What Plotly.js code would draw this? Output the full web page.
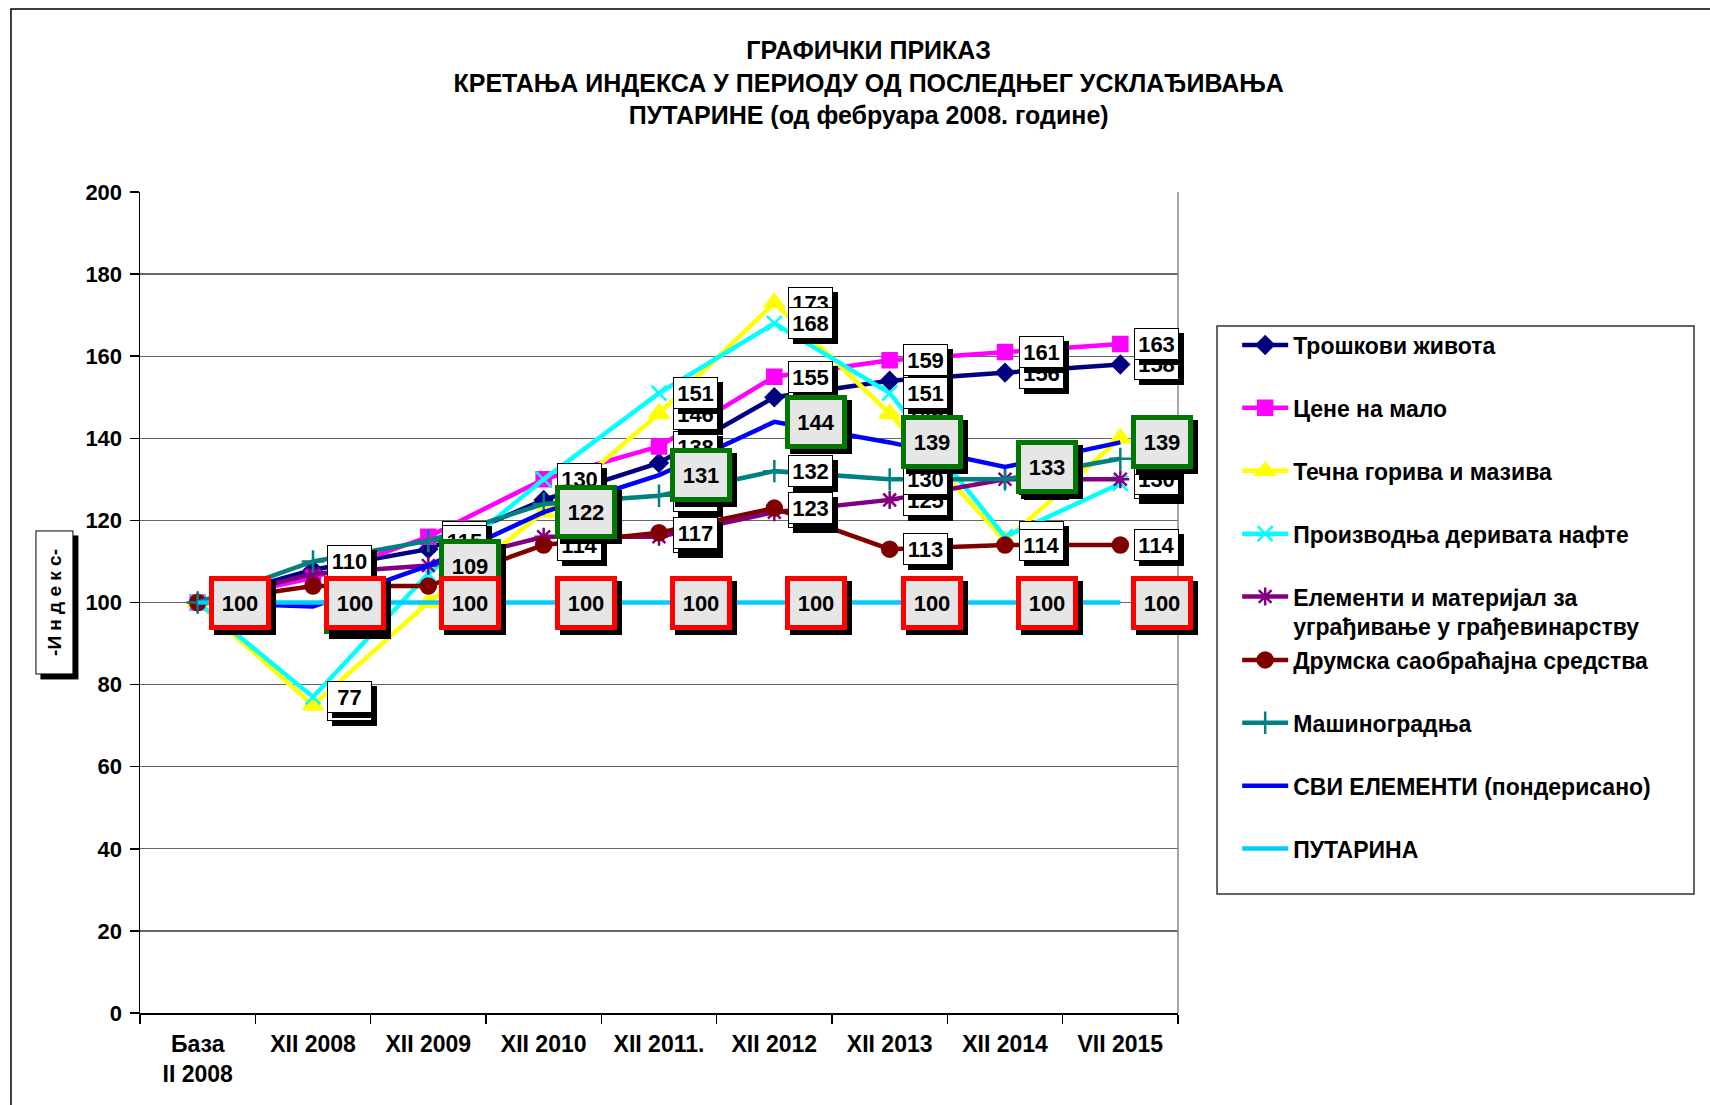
<!DOCTYPE html>
<html>
<head>
<meta charset="utf-8">
<script src="https://cdn.plot.ly/plotly-3.0.1.min.js"></script>
<style>
html,body{margin:0;padding:0;background:#fff;}
#chart{width:1710px;height:1105px;}
</style>
</head>
<body>
<div id="chart"></div>
<script>
// ---- data ----
const categories = ['База<br>II 2008','XII 2008','XII 2009','XII 2010','XII 2011.','XII 2012','XII 2013','XII 2014','VII 2015'];
const seriesNames = [
  'Трошкови живота',
  'Цене на мало',
  'Течна горива и мазива',
  'Производња деривата нафте',
  'Елементи и материјал за<br>уграђивање у грађевинарству',
  'Друмска саобраћајна средства',
  'Машиноградња',
  'СВИ ЕЛЕМЕНТИ (пондерисано)',
  'ПУТАРИНА'
];
const costOfLiving   = [100, 108, 113, 125, 134, 150, 154, 156, 158];
const retailPrices   = [100, 106, 116, 130, 138, 155, 159, 161, 163];
const liquidFuels    = [100, 75, 100, 122, 146, 173, 146, 115, 140];
const oilProducts    = [100, 77, 107, 130, 151, 168, 151, 116, 129];
const constructionMat= [100, 107, 109, 116, 116, 122, 125, 130, 130];
const roadVehicles   = [100, 104, 104, 114, 117, 123, 113, 114, 114];
const machinery      = [100, 110, 115, 124, 126, 132, 130, 130, 135];
const allElements    = [100, 99, 109, 122, 131, 144, 139, 133, 139];
const tollIndex      = [100, 100, 100, 100, 100, 100, 100, 100, 100];
const yTicks = [0,20,40,60,80,100,120,140,160,180,200];

// ---- styles ----
const seriesValues = [costOfLiving, retailPrices, liquidFuels, oilProducts, constructionMat, roadVehicles, machinery, allElements, tollIndex];
const colors  = ['#000080','#FF00FF','#FFFF00','#00FFFF','#800080','#800000','#008080','#0000FF','#00CCFF'];
const symbols = ['diamond','square','triangle-up','x-thin-open','asterisk-open','circle','cross-thin-open',null,null];
const msizes  = [13,14,17,15,15,15,16,0,0];
const labelStyle = ['w','w','w','w','w','w','w','g','r'];

const FONT = 'Liberation Sans, Arial, sans-serif';

const traces = seriesValues.map((vals, i) => {
  const t = {
    type: 'scatter',
    x: categories,
    y: vals,
    name: seriesNames[i],
    legendgroup: 'g' + i,
    legend: i < 5 ? 'legend' : 'legend2',
    mode: symbols[i] ? 'lines+markers' : 'lines',
    line: {color: colors[i], width: 4.5},
    hoverinfo: 'skip',
    cliponaxis: false
  };
  if (symbols[i]) {
    t.marker = {symbol: symbols[i], size: msizes[i], color: colors[i],
                line: {color: colors[i], width: 2.5}};
  }
  return t;
});

// data labels (boxes with drop shadows)
const annotations = [];
seriesValues.forEach((vals, i) => {
  const st = labelStyle[i];
  vals.forEach((v, j) => {
    const big = st !== 'w';
    const w = big ? 52 : 43, h = big ? 44 : 30, bw = big ? 5 : 1;
    const xs = big ? 42 : 36;
    annotations.push({
      x: categories[j], y: v, xref: 'x', yref: 'y', showarrow: false,
      text: ' ', width: w, height: h, borderwidth: bw, borderpad: 0,
      bgcolor: '#000', bordercolor: '#000',
      xshift: xs + 5, yshift: -5, font: {size: 22, family: FONT}
    });
    annotations.push({
      x: categories[j], y: v, xref: 'x', yref: 'y', showarrow: false,
      text: String(Math.round(v)), width: w, height: h, borderwidth: bw, borderpad: 0,
      bgcolor: big ? '#e6e6e6' : '#ffffff',
      bordercolor: st === 'g' ? '#007700' : (st === 'r' ? '#FF0000' : '#000000'),
      xshift: xs, yshift: 0,
      font: {size: 22, family: FONT, color: '#000', weight: 'bold'}
    });
  });
});

// y axis title box
annotations.push({
  xref: 'paper', yref: 'paper', x: -0.0829, y: 0.5, xanchor: 'center', yanchor: 'middle', showarrow: false,
  text: ' ', textangle: -90, width: 140, height: 34, bgcolor: '#000', bordercolor: '#000', borderwidth: 1,
  xshift: 5, yshift: -5
});
annotations.push({
  xref: 'paper', yref: 'paper', x: -0.0829, y: 0.5, xanchor: 'center', yanchor: 'middle', showarrow: false,
  text: '-И н д е к с-', textangle: -90, width: 140, height: 34, bgcolor: '#fff', bordercolor: '#000', borderwidth: 1,
  font: {size: 19, family: FONT, color: '#000', weight: 'bold'}
});

const legendCommon = {
  xanchor: 'left', yanchor: 'top', borderwidth: 0, bgcolor: 'rgba(0,0,0,0)',
  font: {size: 23, family: FONT, color: '#000', weight: 'bold'},
  traceorder: 'grouped', tracegroupgap: 30, itemwidth: 46, valign: 'top'
};

const layout = {
  width: 1710, height: 1105,
  paper_bgcolor: '#fff', plot_bgcolor: '#fff',
  margin: {l: 140, r: 532, t: 192, b: 92},
  font: {family: FONT, color: '#000'},
  title: {
    text: 'ГРАФИЧКИ ПРИКАЗ<br>КРЕТАЊА ИНДЕКСА У ПЕРИОДУ ОД ПОСЛЕДЊЕГ УСКЛАЂИВАЊА<br>ПУТАРИНЕ (од фебруара 2008. године)',
    font: {size: 25, family: FONT, color: '#000', weight: 'bold'},
    xref: 'container', x: 0.508, xanchor: 'center',
    yref: 'container', y: 1 - 59/1105, yanchor: 'top'
  },
  xaxis: {
    type: 'category', range: [-0.5, 8.5], fixedrange: true,
    tickson: 'boundaries', ticks: 'outside', ticklen: 9, tickcolor: '#000', tickwidth: 1.5,
    showline: true, linecolor: '#000', linewidth: 2,
    showgrid: false, zeroline: false,
    tickfont: {size: 23, family: FONT, color: '#000', weight: 'bold'},
    ticklabelstandoff: 9
  },
  yaxis: {
    range: [0, 200], tickvals: yTicks, ticktext: yTicks.map(String), fixedrange: true,
    ticks: 'outside', ticklen: 9, tickcolor: '#000', tickwidth: 1.5,
    showline: true, linecolor: '#000', linewidth: 1.5,
    showgrid: true, gridcolor: '#666', gridwidth: 1.3, zeroline: false,
    tickfont: {size: 22, family: FONT, color: '#000', weight: 'bold'},
    ticklabelstandoff: 3
  },
  showlegend: true,
  legend: Object.assign({}, legendCommon, {x: 1.057, y: 0.8398}),
  legend2: Object.assign({}, legendCommon, {x: 1.057, y: 0.4562}),
  shapes: [
    {type: 'line', xref: 'paper', yref: 'paper', x0: 1, x1: 1, y0: 0, y1: 1, line: {color: '#888', width: 1.5}},
    {type: 'rect', xref: 'paper', yref: 'paper', x0: 1.0376, x1: 1.4971, y0: 0.1449, y1: 0.8368, line: {color: '#333', width: 1.5}},
    {type: 'rect', xref: 'paper', yref: 'paper', x0: -0.1243, x1: 1.6, y0: -0.2, y1: 1.2229, line: {color: '#000', width: 1.5}, layer: 'below'}
  ],
  annotations: annotations
};

Plotly.newPlot('chart', traces, layout, {staticPlot: true, displayModeBar: false});
</script>
</body>
</html>
